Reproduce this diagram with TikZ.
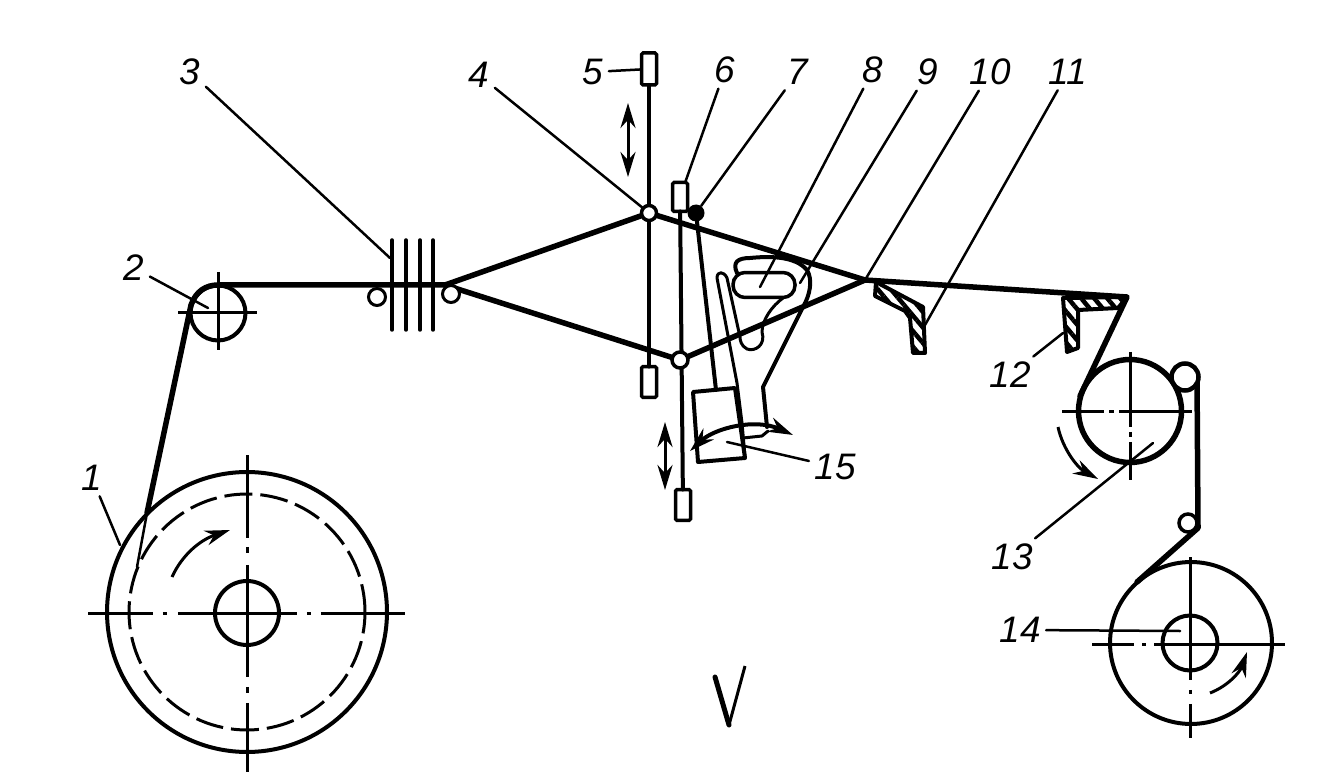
\documentclass[tikz,border=0pt]{standalone}
\usepackage{fontspec}
\setmainfont{Liberation Sans}
\usetikzlibrary{arrows.meta,patterns.meta}
\tikzset{
  >={Stealth[length=5mm,width=3mm]},
  roll/.style={draw, circle, line width=0.8mm, inner sep=0pt, outer sep=0pt},
  guide/.style={roll, line width=0.6mm, fill=white},
  yarn/.style={line width=1.1mm, line join=round, line cap=round},
  centre/.style={line width=0.6mm, dash pattern=#1},
  leader/.style={line width=0.5mm, line cap=round},
  lever/.style={line width=0.8mm, line join=round, line cap=round},
  heald/.style={draw, line width=0.7mm, fill=white, minimum width=3mm, minimum height=6.2mm, inner sep=0pt, outer sep=0pt, rounded corners=0.3mm},
  num/.style={font=\fontsize{21}{21}\selectfont\itshape, inner sep=3pt},
  hatched/.style={draw, line width=0.8mm, line join=round, pattern={Lines[angle=-50,distance=2mm,line width=0.9mm]}},
  turn/.style={line width=0.6mm, ->}
}
\begin{document}
\begin{tikzpicture}[x=0.02cm, y=-0.02cm]
\useasboundingbox (0,0) rectangle (1317,783);
% rolls
\node [roll, minimum size=56mm] (beam) at (247,612) {};
\node [roll, minimum size=47.2mm, dash pattern=on 5.6mm off 1.6mm, line width=0.6mm] (beamdash) at (247,612) {};
\node [roll, minimum size=12.8mm] (beamhub) at (247,613) {};
\node [roll, minimum size=11mm] (back) at (218,313) {};
\node [roll, line width=1.1mm, minimum size=20.6mm] (take) at (1130,411) {};
\node [roll, minimum size=32.4mm] (cloth) at (1191,643) {};
\node [roll, minimum size=11mm] (clothhub) at (1190,643) {};
% centre lines
\draw [centre={on 13mm off 2mm on 0.8mm off 2.2mm on 23.8mm off 2mm on 0.8mm off 2mm on 40mm}] (88,613) -- (405,613);
\draw [centre={on 16.6mm off 1.8mm on 1.2mm off 2.4mm on 22.4mm off 2mm on 1.2mm off 2mm on 40mm}] (247,455) -- (247,772);
\draw [line width=0.6mm] (178,313) -- (257,313);
\draw [line width=0.6mm] (218,272) -- (218,350);
\draw [centre={on 8.4mm off 1mm on 1mm off 1mm on 40mm}] (1062,411) -- (1192,411);
\draw [centre={on 15mm off 1mm on 1mm off 1mm on 40mm}] (1130,352) -- (1130,480);
\draw [centre={on 8.4mm off 1.6mm on 0.8mm off 1.6mm on 40mm}] (1092,644) -- (1285,644);
\draw [centre={on 24.6mm off 2mm on 0.8mm off 2mm on 40mm}] (1190,557) -- (1190,738);
% reed
\foreach \x in {392,406,420,433}
  \draw [line width=0.7mm, line cap=round] (\x,240) -- (\x,330);
% named points of the warp
\coordinate (wbeam) at (147,513);
\coordinate (wsplit) at (445,285);
\coordinate (wfell) at (865,280);
\coordinate (wbreast) at (1127,297);
\coordinate (wtake) at (1080,396);
\coordinate (wtop) at (1197,377);
\coordinate (wknee) at (1198,528);
\coordinate (wcloth) at (1137,582);
% healds
\node [heald, minimum height=6.4mm] (heald5top) at (649,69) {};
\node [heald, minimum height=6.2mm] (heald5bot) at (649,382) {};
\node [heald, minimum height=5.8mm] (heald6top) at (680,197) {};
\node [heald, minimum height=6.2mm] (heald6bot) at (683,505) {};
\draw [lever] (heald5top) -- (heald5bot);
\draw [lever] (heald6top) -- (heald6bot);
% warp
\draw [yarn] (wbeam) -- (191,305) .. controls (196,291) and (206,285) .. (218,285) -- (wsplit);
\draw [leader] (wbeam) -- (137,567);
\draw [yarn] (wsplit) -- (649,213) -- (wfell) -- (wbreast) -- (wtake);
\draw [yarn] (wsplit) -- (680,360) -- (wfell);
\draw [yarn] (wtop) -- (wknee) -- (wcloth);
% guides and eyes
\node [guide, minimum size=3.4mm] (guide1) at (377,297) {};
\node [guide, minimum size=3.4mm] (guide2) at (451,294) {};
\node [guide, line width=0.7mm, minimum size=3mm] (eye5) at (649,213) {};
\node [guide, line width=0.7mm, minimum size=3.2mm] (eye6) at (680,360) {};
\node [guide, line width=0.9mm, minimum size=5.4mm] (small13) at (1185,377) {};
\node [guide, line width=0.7mm, minimum size=3.6mm] (small14) at (1188,523) {};
\node [circle, fill=black, inner sep=0pt, minimum size=3.4mm] (dot7) at (696,213) {};
% batten and cam
\draw [lever] (dot7) -- (716,390);
\draw [lever] (693,392) -- (735,388) -- (745,458) -- (698,462) -- cycle;
\node [draw, line width=0.7mm, rounded corners=2.4mm, minimum width=12.4mm, minimum height=5mm, inner sep=0pt] (slot) at (764,285) {};
\draw [lever] (737,273) .. controls (732,262) and (738,258) .. (750,258)
  .. controls (770,256) and (795,256) .. (807,270)
  .. controls (813,280) and (810,295) .. (803,307) -- (763,387) -- (767,427);
\draw [lever, line width=0.6mm] (783,298) .. controls (772,306) and (762,320) .. (762,332)
  .. controls (766,345) and (755,352) .. (747,349) .. controls (741,346) and (740,340) .. (740,337)
  -- (727,278) .. controls (724,271) and (717,271) .. (717,278) -- (737,383) -- (742,423) -- (745,457);
\draw [lever, line width=0.6mm] (743,438) -- (762,436) -- (768,431);
% guide bars
\draw [hatched] (876,282) -- (923,307) -- (925,353) -- (913,353) -- (910,318) -- (905,311) -- (875,296) -- cycle;
\draw [hatched] (1063,298) -- (1127,297) -- (1118,308) -- (1078,310) -- (1078,348) -- (1067,352) -- cycle;
% motions
\draw [<->, line width=0.6mm] (628,103) -- (628,177);
\draw [<->, line width=0.6mm] (665,422) -- (665,490);
\draw [<->, line width=0.8mm] (690,451) .. controls (715,428) and (755,418) .. (793,435);
\draw [turn] (172,577) .. controls (182,555) and (200,540) .. (230,530);
\draw [turn] (1058,427) .. controls (1063,450) and (1078,468) .. (1098,479);
\draw [turn] (1210,693) .. controls (1228,686) and (1240,672) .. (1247,652);
\draw [yarn, line width=1mm] (715,677) -- (729,725);
\draw [line width=0.6mm] (729,725) -- (745,666);
% labels
\foreach \n/\x/\y in {1/92/478,2/134/268,3/190/72,4/479/75,5/593/72,6/725/70,7/798/72,8/873/70,9/928/72,10/990/72,11/1068/72,12/1010/375,13/1012/557,14/1020/630,15/835/467}
  \node [num] (label\n) at (\x,\y) {\n};
\foreach \n/\t in {4/eye5,5/heald5top,6/heald6top,7/dot7,10/wfell}
  \draw [leader] (label\n) -- (\t);
\foreach \n/\x/\y in {1/120/545,2/208/308,3/390/258,8/760/287,9/800/283,11/925/325,12/1063/333,13/1153/443,14/1180/631,15/727/442}
  \draw [leader] (label\n) -- (\x,\y);
\end{tikzpicture}
\end{document}
